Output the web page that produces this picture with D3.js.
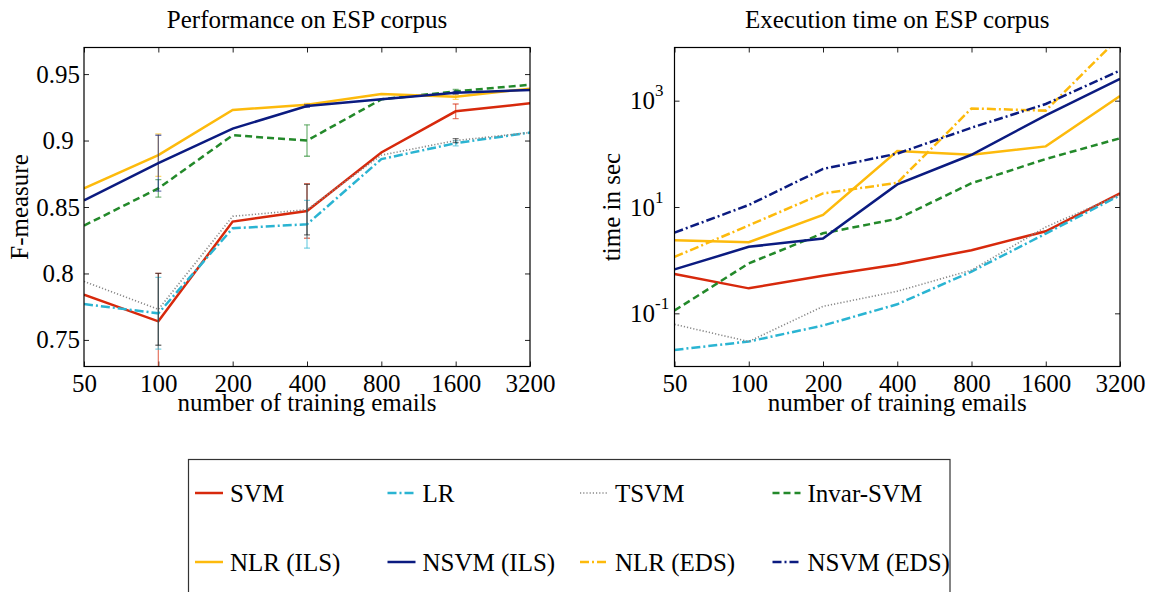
<!DOCTYPE html>
<html>
<head>
<meta charset="utf-8">
<script src="https://cdn.jsdelivr.net/npm/d3@7"></script>
<style>
  body { margin: 0; background: #fff; }
  svg, svg text { font-family: "Liberation Serif", "Times New Roman", Times, "DejaVu Serif", serif !important; }
  text { font-size: 25px; fill: #000; }
</style>
</head>
<body>
<svg id="chart" width="1151" height="592"></svg>
<script>
// training set sizes (x axis, log2 spaced)
const sizes = [50, 100, 200, 400, 800, 1600, 3200];
const names = ["SVM", "LR", "TSVM", "Invar-SVM", "NLR (ILS)", "NSVM (ILS)", "NLR (EDS)", "NSVM (EDS)"];

// F-measure, left panel
const fSVM   = [0.784, 0.764, 0.839, 0.847, 0.891, 0.922, 0.928];
const fLR    = [0.777, 0.770, 0.834, 0.837, 0.886, 0.898, 0.906];
const fTSVM  = [0.794, 0.773, 0.843, 0.848, 0.889, 0.900, 0.906];
const fInvar = [0.836, 0.864, 0.904, 0.900, 0.931, 0.937, 0.942];
const fNLR   = [0.864, 0.889, 0.923, 0.927, 0.935, 0.933, 0.939];
const fNSVM  = [0.855, 0.883, 0.909, 0.926, 0.931, 0.936, 0.938];

// error bars for the F-measure (0 = none drawn)
const eSVM   = [0, 0.036, 0, 0.0205, 0, 0.0055, 0];
const eLR    = [0, 0.027, 0, 0.018, 0, 0.002, 0];
const eTSVM  = [0, 0.027, 0, 0.019, 0, 0.0015, 0];
const eInvar = [0, 0.0066, 0, 0.0118, 0, 0.0015, 0];
const eNLR   = [0, 0.016, 0, 0.001, 0, 0.002, 0];
const eNSVM  = [0, 0.021, 0, 0.001, 0, 0.001, 0];

// execution time in seconds, right panel
const tSVM     = [0.55, 0.295, 0.51, 0.83, 1.54, 3.5, 18];
const tLR      = [0.0205, 0.0295, 0.059, 0.148, 0.61, 3.16, 16.6];
const tTSVM    = [0.062, 0.0295, 0.135, 0.26, 0.65, 4.2, 17];
const tInvar   = [0.113, 0.87, 3.2, 6.0, 28, 80, 196];
const tNLR     = [2.37, 2.18, 7.1, 113, 96, 138, 1220];
const tNSVM    = [0.67, 1.78, 2.56, 26.6, 96, 530, 2570];
const tNLReds  = [1.15, 4.5, 18, 28.5, 715, 650, 16000];
const tNSVMeds = [3.3, 10.9, 52, 101, 310, 866, 3700];

const fTicks = ["0.75", "0.8", "0.85", "0.9", "0.95"];

const fSeries = [fSVM, fLR, fTSVM, fInvar, fNLR, fNSVM];
const fErrors = [eSVM, eLR, eTSVM, eInvar, eNLR, eNSVM];
const tSeries = [tSVM, tLR, tTSVM, tInvar, tNLR, tNSVM, tNLReds, tNSVMeds];

const style = {
  "SVM":        { color: "#d7290c", dash: null,      w: 2.5 },
  "LR":         { color: "#2ab4d2", dash: "9,3,2,3", w: 2.5 },
  "TSVM":       { color: "#888888", dash: "1.2,2",   w: 1.6 },
  "Invar-SVM":  { color: "#23892a", dash: "7,4",     w: 2.5 },
  "NLR (ILS)":  { color: "#fdba0c", dash: null,      w: 2.5 },
  "NSVM (ILS)": { color: "#0b1b80", dash: null,      w: 2.5 },
  "NLR (EDS)":  { color: "#fdba0c", dash: "9,3,2,3", w: 2.5 },
  "NSVM (EDS)": { color: "#0b1b80", dash: "9,3,2,3", w: 2.5 }
};

const FONT = "'Liberation Serif', 'Times New Roman', Times, 'DejaVu Serif', serif";
const svg = d3.select("#chart").attr("font-family", FONT);
const yTop = 47.5, yBot = 366.5;

function panel(opts) {
  let x = d3.scaleLog().base(2).domain([50, 3200]).range([opts.left, opts.right]);
  let y = opts.y;
  let g = svg.append("g");

  g.append("clipPath").attr("id", opts.id)
    .append("rect")
    .attr("x", opts.left).attr("y", yTop)
    .attr("width", opts.right - opts.left).attr("height", yBot - yTop);

  // axes with inward ticks on all four sides
  let ax = g.append("g").attr("class", "axes");
  ax.append("g")
    .attr("transform", `translate(0,${yBot})`)
    .call(d3.axisBottom(x).tickValues(sizes).tickFormat(d3.format("d")).tickSize(-5).tickPadding(8));
  ax.append("g")
    .attr("transform", `translate(0,${yTop})`)
    .call(d3.axisTop(x).tickValues(sizes).tickFormat("").tickSize(-5));
  ax.append("g")
    .attr("class", "yleft")
    .attr("transform", `translate(${opts.left},0)`)
    .call(opts.yAxis(d3.axisLeft(y)).tickSize(-5).tickPadding(4));
  ax.append("g")
    .attr("transform", `translate(${opts.right},0)`)
    .call(opts.yAxis(d3.axisRight(y)).tickFormat("").tickSize(-5));
  ax.selectAll(".domain").remove();
  ax.selectAll("g").attr("font-family", FONT).attr("font-size", 25);
  ax.selectAll(".tick line").attr("stroke", "#222");

  let line = d3.line().x((d, i) => x(sizes[i])).y(d => y(d));
  let plot = g.append("g").attr("clip-path", `url(#${opts.id})`);

  opts.series.forEach((s, k) => {
    let st = style[names[k]];
    plot.append("path")
      .datum(s)
      .attr("fill", "none")
      .attr("stroke", st.color)
      .attr("stroke-width", st.w)
      .attr("stroke-dasharray", st.dash)
      .attr("d", line);

    if (opts.errors) {
      let e = opts.errors[k];
      s.forEach((v, i) => {
        if (!e[i]) return;
        let bx = x(sizes[i]);
        let eg = plot.append("g")
          .attr("stroke", st.color === "#888888" ? "#222" : st.color)
          .attr("stroke-opacity", 0.6)
          .attr("stroke-width", 1.3);
        eg.append("line").attr("x1", bx).attr("x2", bx).attr("y1", y(v - e[i])).attr("y2", y(v + e[i]));
        [v - e[i], v + e[i]].forEach(c => {
          eg.append("line").attr("x1", bx - 3).attr("x2", bx + 3).attr("y1", y(c)).attr("y2", y(c));
        });
      });
    }
  });

  g.append("rect")
    .attr("x", opts.left).attr("y", yTop)
    .attr("width", opts.right - opts.left).attr("height", yBot - yTop)
    .attr("fill", "none").attr("stroke", "#000").attr("stroke-width", 1.2);

  let cx = (opts.left + opts.right) / 2;
  g.append("text").attr("x", cx).attr("y", 28).attr("text-anchor", "middle").text(opts.title);
  g.append("text").attr("x", cx).attr("y", 411).attr("text-anchor", "middle").text("number of training emails");
  g.append("text")
    .attr("transform", `translate(${opts.ylabX},${(yTop + yBot) / 2}) rotate(-90)`)
    .attr("text-anchor", "middle")
    .text(opts.ylabel);
  return g;
}

// left: F-measure; short labels are padded like the original (trailing space)
panel({
  id: "clipL", left: 84, right: 530,
  y: d3.scaleLinear().domain([0.73, 0.97]).range([yBot, yTop]),
  yAxis: a => a.tickValues(fTicks.map(Number)).tickFormat((d, i) => fTicks[i].padEnd(4, "\u00a0")),
  series: fSeries, errors: fErrors,
  title: "Performance on ESP corpus", ylabel: "F-measure", ylabX: 28
});

// right: execution time (log scale)
let right = panel({
  id: "clipR", left: 674.5, right: 1120,
  y: d3.scaleLog().domain([0.01, 10000]).range([yBot, yTop]),
  yAxis: a => a.tickValues([0.1, 10, 1000]),
  series: tSeries, errors: null,
  title: "Execution time on ESP corpus", ylabel: "time in sec", ylabX: 620
});

// superscript labels 10^k on the log axis
right.selectAll(".yleft .tick text").each(function (d) {
  let t = d3.select(this).text("").attr("text-anchor", "start").attr("x", -44.5);
  t.append("tspan").text("10");
  t.append("tspan").attr("font-size", 17).attr("dy", -13).text(Math.round(Math.log10(d)));
});

// legend
const legCols = [195, 387.5, 580, 772.5];
const legRows = [493, 562];
let leg = svg.append("g");
leg.append("rect")
  .attr("x", 188.5).attr("y", 459.5).attr("width", 761.5).attr("height", 200)
  .attr("fill", "#fff").attr("stroke", "#333").attr("stroke-width", 1.2);
names.forEach((n, i) => {
  let lx = legCols[i % 4], ly = legRows[Math.floor(i / 4)];
  let st = style[n];
  leg.append("line")
    .attr("x1", lx).attr("x2", lx + 28).attr("y1", ly).attr("y2", ly)
    .attr("stroke", st.color).attr("stroke-width", st.w)
    .attr("stroke-dasharray", st.dash);
  leg.append("text").attr("x", lx + 35).attr("y", ly).attr("dy", "0.35em").text(n);
});
</script>
</body>
</html>
